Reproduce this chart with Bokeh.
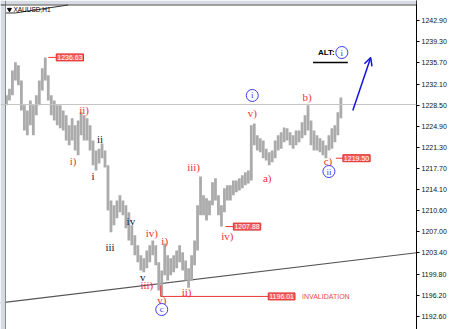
from bokeh.plotting import figure
from bokeh.models import (ColumnDataSource, Range1d, FixedTicker, NumeralTickFormatter,
                          Label, Span, BoxAnnotation, Arrow, OpenHead)
from bokeh.core.properties import value
from bokeh.embed import file_html
from bokeh.resources import INLINE

# XAUUSD H1 bars (high / low)
highs = [1230.2, 1231.3, 1234.4, 1235.8, 1235.3, 1232.7, 1228.5, 1227.6, 1229.3, 1228.5,
         1230.2, 1232.7, 1234.8, 1236.63, 1233.6, 1230.2, 1229.3, 1228.5, 1228.5, 1227.6,
         1226.8, 1225.1, 1226.3, 1225.1, 1225.9, 1227.3, 1226.8, 1226.3, 1225.1, 1222.5,
         1220.8, 1221.1, 1222.0, 1220.8, 1218.3, 1212.3, 1211.5, 1212.3, 1213.2, 1212.3,
         1211.5, 1210.3, 1208.1, 1206.4, 1204.7, 1203.0, 1202.5, 1203.8, 1204.7, 1205.5,
         1204.7, 1201.8, 1200.4, 1205.0, 1203.0, 1202.5, 1203.0, 1203.8, 1204.7, 1203.5,
         1202.1, 1200.8, 1203.0, 1205.5, 1211.5, 1216.4, 1213.2, 1212.7, 1212.3, 1215.4,
         1216.1, 1213.2, 1211.5, 1214.4, 1214.9, 1214.9, 1215.7, 1215.7, 1216.1, 1216.6,
         1217.1, 1217.4, 1225.1, 1225.4, 1223.4, 1222.9, 1222.5, 1221.1, 1220.5, 1220.8,
         1222.5, 1223.4, 1223.9, 1224.7, 1224.6, 1223.9, 1223.4, 1224.2, 1224.2, 1225.6,
         1226.8, 1228.5, 1225.9, 1224.2, 1223.4, 1222.9, 1222.5, 1221.7, 1223.4, 1224.6,
         1225.1, 1227.3, 1229.82]
lows = [1228.5, 1229.3, 1230.2, 1232.7, 1231.9, 1227.6, 1224.2, 1223.4, 1225.1, 1223.4,
        1226.8, 1228.5, 1231.0, 1232.7, 1229.3, 1226.8, 1225.9, 1225.1, 1224.6, 1224.2,
        1222.5, 1221.7, 1222.5, 1220.8, 1220.0, 1223.4, 1222.5, 1222.5, 1220.8, 1218.3,
        1217.4, 1218.6, 1219.5, 1217.9, 1210.6, 1206.9, 1208.1, 1209.3, 1210.3, 1209.8,
        1207.6, 1205.5, 1204.7, 1203.0, 1201.8, 1200.4, 1200.1, 1200.8, 1201.8, 1203.0,
        1201.3, 1197.0, 1196.01, 1199.6, 1198.7, 1199.6, 1200.1, 1200.8, 1201.8, 1200.4,
        1198.7, 1197.5, 1198.7, 1201.3, 1203.8, 1209.8, 1209.8, 1208.9, 1209.8, 1211.5,
        1212.3, 1209.8, 1207.88, 1210.3, 1212.3, 1212.3, 1213.2, 1213.7, 1214.0, 1214.4,
        1214.9, 1215.2, 1215.7, 1221.7, 1220.8, 1220.5, 1219.5, 1219.1, 1218.3, 1218.8,
        1219.5, 1220.8, 1221.1, 1222.2, 1222.5, 1221.7, 1221.1, 1221.7, 1222.2, 1222.9,
        1223.4, 1224.2, 1221.7, 1220.8, 1220.8, 1220.5, 1220.0, 1219.50, 1220.8, 1221.1,
        1222.2, 1223.4, 1226.3]
last_price = 1228.63

# marked price levels
level_high = 1236.63
level_c = 1219.50
level_iv = 1207.88
level_invalid = 1196.01

# right-axis price scale
axis_ticks = [1192.6, 1196.2, 1199.8, 1203.4, 1207.0, 1210.6, 1214.1, 1217.7,
              1221.3, 1224.9, 1228.5, 1232.1, 1235.7, 1239.3, 1242.9]

# support trendline (bar index, price)
trend_x = [-2.0, 137.33]
trend_y = [1194.93, 1203.43]

# wave counts
red_text = ["ii)", "i)", "iii)", "v)", "a)", "b)", "c)", "iv)", "i)", "iv)", "v)", "ii)", "iii)"]
red_x = [26.0, 22.33, 62.67, 82.33, 87.33, 100.67, 107.67, 48.67, 53.0, 74.0, 52.0, 60.33, 47.0]
red_y = [1227.61, 1218.94, 1218.09, 1227.10, 1216.22, 1229.82, 1218.94, 1206.71, 1205.35,
         1206.20, 1195.32, 1196.68, 1197.87]
dark_text = ["ii", "i", "iii", "iv", "v"]
dark_x = [31.33, 29.0, 34.67, 41.67, 45.67]
dark_y = [1222.68, 1216.56, 1204.33, 1208.75, 1199.23]
ring_text = ["i", "ii", "c", "i"]
ring_x = [82.33, 108.0, 52.0, 112.33]
ring_y = [1230.16, 1217.24, 1193.79, 1237.46]

RED = "#ee3333"
BLUE = "#3b3bf0"
SERIF = value("Liberation Serif")

p = figure(width=449, height=329, x_range=Range1d(-2, 137.333),
           y_range=Range1d(1190.39, 1246.30), output_backend="svg",
           toolbar_location=None, x_axis_location=None, y_axis_location="right",
           min_border_left=0, min_border_top=0, min_border_bottom=0, min_border_right=31)
p.grid.visible = False
p.outline_line_color = None
p.background_fill_color = "white"
p.border_fill_color = "white"

ax = p.yaxis[0]
ax.ticker = FixedTicker(ticks=axis_ticks)
ax.formatter = NumeralTickFormatter(format="0.00")
ax.major_label_text_font_size = "7px"
ax.major_label_text_font = "Liberation Sans"
ax.major_label_text_color = "#111111"
ax.major_label_standoff = 2
ax.axis_line_color = "black"
ax.major_tick_line_color = "black"
ax.major_tick_out = 3
ax.major_tick_in = 0
ax.minor_tick_line_color = None

# window edges
p.add_layout(BoxAnnotation(right=-0.5, fill_color="#d6dce3", fill_alpha=1, line_color=None))
p.add_layout(BoxAnnotation(bottom=1245.71, fill_color="#d6dce3", fill_alpha=1, line_color=None))
p.add_layout(Span(location=-0.33, dimension="height", line_color="#8a8a8a", line_width=1))
p.add_layout(Span(location=1245.54, dimension="width", line_color="#404040", line_width=1))
p.line([-0.33, 3.0, 20.67], [1244.18, 1244.18, 1245.54], line_color="#303030", line_width=1)
p.scatter([1.0], [1244.77], marker="inverted_triangle", size=4, color="black")
p.text([2.33], [1244.77], text=["XAUUSD,H1"], text_font=value("Liberation Sans"),
       text_font_size="6.5px", text_color="black", text_baseline="middle")

# current price line
p.add_layout(Span(location=last_price, dimension="width", line_color="#c4c4c4", line_width=1))

# trendline
p.line(trend_x, trend_y, line_color="#555555", line_width=1.2)

# price bars
xs = list(range(len(highs)))
p.segment(x0=xs, y0=lows, x1=xs, y1=highs, line_color="#ababab", line_width=2.8)

# level markers
p.segment(x0=[14.0, 110.33, 73.33], y0=[level_high, level_c, level_iv],
          x1=[16.67, 112.67, 76.0], y1=[level_high, level_c, level_iv],
          line_color=RED, line_width=1)
p.line([51.67, 51.67, 87.67], [1197.87, level_invalid, level_invalid],
       line_color=RED, line_width=1)
for lx, lv in [(16.67, level_high), (112.67, level_c), (76.0, level_iv), (87.67, level_invalid)]:
    p.add_layout(Label(x=lx, y=lv, text=f"{lv:.2f}", text_font_size="7px",
                       text_font="Liberation Sans", text_color="white",
                       text_baseline="middle", background_fill_color="#f26060",
                       border_line_color="#e03030", padding=1))
p.text([99.0], [1196.0], text=["INVALIDATION"], text_font=value("Liberation Sans"),
       text_font_size="7px", text_color="#f04848", text_baseline="middle")

# wave labels
p.text(red_x, red_y, text=red_text, text_font=SERIF, text_font_size="11px",
       text_color=RED, text_align="center", text_baseline="middle")
p.text(dark_x, dark_y, text=dark_text, text_font=SERIF, text_font_size="11px",
       text_color="#14143c", text_align="center", text_baseline="middle")
p.scatter(ring_x, ring_y, marker="circle", size=12, fill_color="white",
          line_color=BLUE, line_width=1)
p.text(ring_x, ring_y, text=ring_text, text_font=SERIF, text_font_size="9px",
       text_color=BLUE, text_align="center", text_baseline="middle")

# alternate count
p.text([104.33], [1237.46], text=["ALT:"], text_font=value("Liberation Sans"),
       text_font_size="8px", text_font_style="bold", text_color="black",
       text_baseline="middle")
p.line([102.67, 114.33], [1235.76, 1235.76], line_color="black", line_width=1.5)
p.add_layout(Arrow(end=OpenHead(size=8, line_color="#1414e0", line_width=1.5),
                   x_start=116.0, y_start=1227.61, x_end=122.0, y_end=1236.61,
                   line_color="#1414e0", line_width=1.5))

# last price tag on the axis
p.add_layout(Label(x=138.0, y=last_price, text=f"{last_price:.2f}", text_font_size="7px",
                   text_font="Liberation Sans", text_color="white", text_baseline="middle",
                   background_fill_color="black", padding=1))

open("out.html", "w").write(file_html(p, INLINE))
